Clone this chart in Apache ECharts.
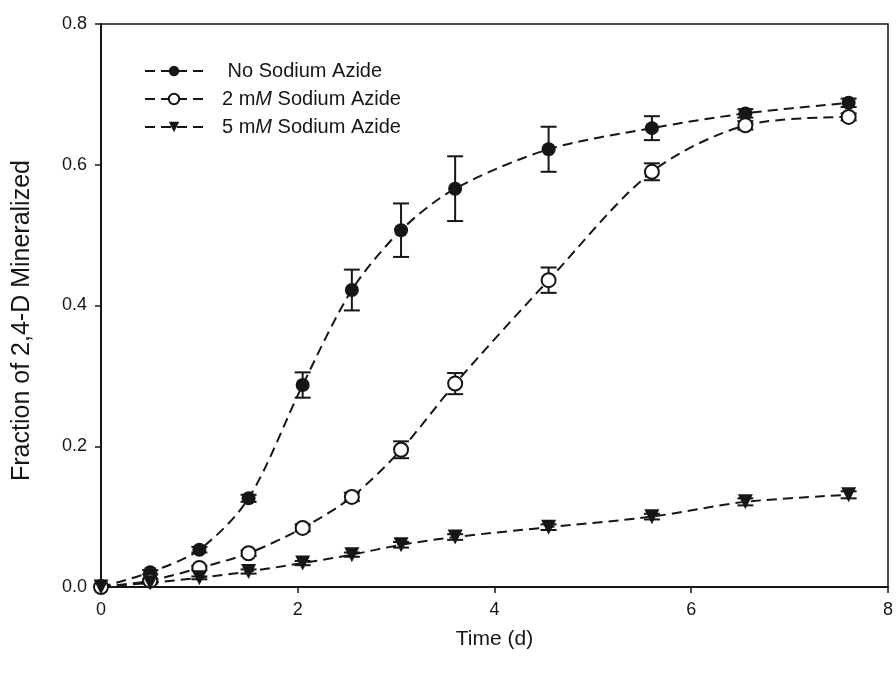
<!DOCTYPE html>
<html>
<head>
<meta charset="utf-8">
<script src="https://cdn.jsdelivr.net/npm/echarts@6/dist/echarts.min.js"></script>
<style>
  html, body { margin: 0; padding: 0; background: #fff; }
  #main { width: 896px; height: 683px; }
</style>
</head>
<body>
<div id="main"></div>
<script>
// time points (d)
const timeDays = [0, 0.5, 1, 1.5, 2.05, 2.55, 3.05, 3.6, 4.55, 5.6, 6.55, 7.6];

// fraction mineralized
const noAzide = [0, 0.021, 0.053, 0.126, 0.287, 0.422, 0.507, 0.566, 0.622, 0.652, 0.673, 0.688];
const noAzideErr = [0, 0.003, 0.004, 0.005, 0.018, 0.029, 0.038, 0.046, 0.032, 0.017, 0.006, 0.006];

const azide2 = [0, 0.009, 0.027, 0.048, 0.084, 0.128, 0.195, 0.289, 0.436, 0.590, 0.656, 0.668];
const azide2Err = [0, 0.002, 0.003, 0.004, 0.005, 0.006, 0.012, 0.015, 0.018, 0.012, 0.006, 0.005];

const azide5 = [0, 0.006, 0.013, 0.022, 0.034, 0.046, 0.060, 0.071, 0.085, 0.100, 0.121, 0.131];
const azide5Err = [0, 0.001, 0.002, 0.003, 0.003, 0.003, 0.004, 0.004, 0.004, 0.004, 0.005, 0.005];

const seriesNames = ['No Sodium Azide', '2 mM Sodium Azide', '5 mM Sodium Azide'];

const font = 'Liberation Sans, Arial, sans-serif';
const ink = '#161616';

const chart = echarts.init(document.getElementById('main'), null, { renderer: 'canvas' });

function pairs(ys) {
  return timeDays.map((t, i) => [t, ys[i]]);
}

// error bars drawn as custom series
function errorBars(ys, errs) {
  return {
    type: 'custom',
    silent: true,
    z: 1,
    data: timeDays.map((t, i) => [t, ys[i] - errs[i], ys[i] + errs[i]]),
    renderItem: function (params, api) {
      const lo = api.coord([api.value(0), api.value(1)]);
      const hi = api.coord([api.value(0), api.value(2)]);
      const w = 8;
      const st = { stroke: ink, lineWidth: 2 };
      return {
        type: 'group',
        children: [
          { type: 'line', shape: { x1: lo[0], y1: lo[1], x2: hi[0], y2: hi[1] }, style: st },
          { type: 'line', shape: { x1: lo[0] - w, y1: lo[1], x2: lo[0] + w, y2: lo[1] }, style: st },
          { type: 'line', shape: { x1: hi[0] - w, y1: hi[1], x2: hi[0] + w, y2: hi[1] }, style: st }
        ]
      };
    }
  };
}

function lineSeries(name, ys, symbol, filled) {
  return {
    name: name,
    type: 'line',
    data: pairs(ys),
    smooth: 0.3,
    symbol: symbol,
    symbolSize: symbol === 'triangle' ? 15 : 14,
    symbolRotate: symbol === 'triangle' ? 180 : 0,
    showAllSymbol: true,
    z: 3,
    lineStyle: { color: ink, width: 2, type: [10, 6] },
    itemStyle: {
      color: filled ? ink : '#fff',
      borderColor: ink,
      borderWidth: filled ? 0 : 2
    },
    emphasis: { disabled: true }
  };
}

chart.setOption({
  animation: false,
  grid: {
    left: 101, right: 5, top: 24, bottom: 96,
    show: true, borderColor: ink, borderWidth: 1.5
  },
  legend: {
    orient: 'vertical',
    left: 139,
    top: 56,
    itemWidth: 58,
    itemHeight: 13,
    itemGap: 8,
    data: seriesNames,
    textStyle: {
      fontFamily: font, fontSize: 20, color: ink,
      padding: [0, 0, 0, 14],
      rich: { i: { fontFamily: font, fontSize: 20, color: ink, fontStyle: 'italic' } }
    },
    formatter: function (name) {
      if (name === seriesNames[0]) return ' ' + name;
      return name.replace('mM', 'm{i|M}');
    }
  },
  xAxis: {
    type: 'value',
    min: 0, max: 8, interval: 2,
    name: 'Time (d)',
    nameLocation: 'middle',
    nameGap: 42,
    nameTextStyle: { fontFamily: font, fontSize: 21, color: ink },
    axisLine: { lineStyle: { color: ink, width: 2 } },
    axisTick: { inside: false, length: 6, lineStyle: { color: ink, width: 1.5 } },
    axisLabel: { fontFamily: font, fontSize: 18, color: ink, margin: 14 },
    splitLine: { show: false }
  },
  yAxis: {
    type: 'value',
    min: 0, max: 0.8, interval: 0.2,
    name: 'Fraction of 2,4-D Mineralized',
    nameLocation: 'middle',
    nameGap: 66,
    nameTextStyle: { fontFamily: font, fontSize: 25, color: ink, padding: [0, 30, 0, 0] },
    axisLine: { lineStyle: { color: ink, width: 2 } },
    axisTick: { inside: false, length: 6, lineStyle: { color: ink, width: 1.5 } },
    axisLabel: {
      fontFamily: font, fontSize: 18, color: ink, margin: 14,
      formatter: v => v.toFixed(1)
    },
    splitLine: { show: false }
  },
  series: [
    errorBars(noAzide, noAzideErr),
    errorBars(azide2, azide2Err),
    errorBars(azide5, azide5Err),
    lineSeries(seriesNames[0], noAzide, 'circle', true),
    lineSeries(seriesNames[1], azide2, 'circle', false),
    lineSeries(seriesNames[2], azide5, 'triangle', true)
  ]
});
</script>
</body>
</html>
